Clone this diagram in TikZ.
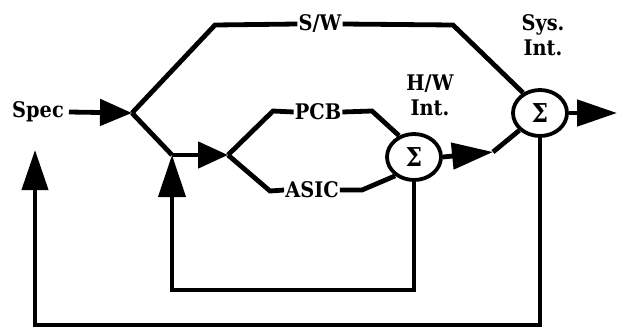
\documentclass[tikz,border=0pt]{standalone}
\usepackage{fontspec}
\setmainfont{DejaVu Serif Condensed}
\usetikzlibrary{arrows.meta,shapes.geometric}
\tikzset{
  lbl/.style={font=\fontsize{21.5}{25}\selectfont\bfseries, inner sep=1pt, align=center},
  wire/.style={line width=4.8pt, line join=miter},
  loopwire/.style={line width=4pt},
  sumnode/.style={ellipse, draw, line width=3.8pt, minimum width=54pt, minimum height=46pt, inner sep=0pt, font=\fontsize{26}{26}\selectfont\bfseries},
  htip/.style={-{Triangle[length=#1, width=26pt]}},
}
\begin{document}
\begin{tikzpicture}[x=1pt,y=-1pt]
\useasboundingbox (0,0) rectangle (618,327);
% nodes
\node[lbl] (spec) at (38,112) {Spec};
\node[lbl] (sw) at (320,24) {S/W};
\node[lbl] (pcb) at (318,112) {PCB};
\node[lbl] (asic) at (312,190) {ASIC};
\node[sumnode] (hw) at (414,157) {Σ};
\node[sumnode] (sys) at (540,113) {Σ};
\node[lbl] (hwlab) at (430,95) {H/W\\Int.};
\node[lbl] (syslab) at (543,35) {Sys.\\Int.};
% junctions
\coordinate (j0) at (132,113);
\coordinate (j1) at (172,155);
\coordinate (j2) at (228,155);
\coordinate (swa) at (215,25);
\coordinate (swb) at (453,25);
\coordinate (pa) at (273,111);
\coordinate (pb) at (372,111);
\coordinate (aa) at (270,191);
\coordinate (ab) at (362,190);
\coordinate (hwo) at (493,152);
\coordinate (out) at (617,113);
\coordinate (fb) at (35,150);
% connectors
\draw[wire, htip=32pt] (spec.east) ++(4,0) -- (j0);
\draw[wire] (j0) -- (swa) -- (sw.west);
\draw[wire] (sw.east) -- (swb) -- (sys.130);
\draw[wire] (j0) -- (j1);
\draw[wire, htip=30pt] (j1) -- (j2);
\draw[wire] (j2) -- (pa) -- (pcb.west);
\draw[wire] (pcb.east) -- (pb) -- (hw.125);
\draw[wire] (j2) -- (aa) -- (asic.west);
\draw[wire] (asic.east) -- (ab) -- (hw.225);
\draw[wire, htip=41pt] (hw.east) -- (hwo);
\draw[wire] (hwo) -- (sys.220);
\draw[wire, htip=40pt] (sys.east) -- (out);
\draw[loopwire, -{Triangle[length=42pt, width=27pt]}] (hw.south) -- (hw.south |- 0,290) -- (j1 |- 0,290) -- (j1);
\draw[loopwire, -{Triangle[length=40pt, width=26pt]}] (sys.south) -- (sys.south |- 0,325) -- (fb |- 0,325) -- (fb);
\end{tikzpicture}
\end{document}
